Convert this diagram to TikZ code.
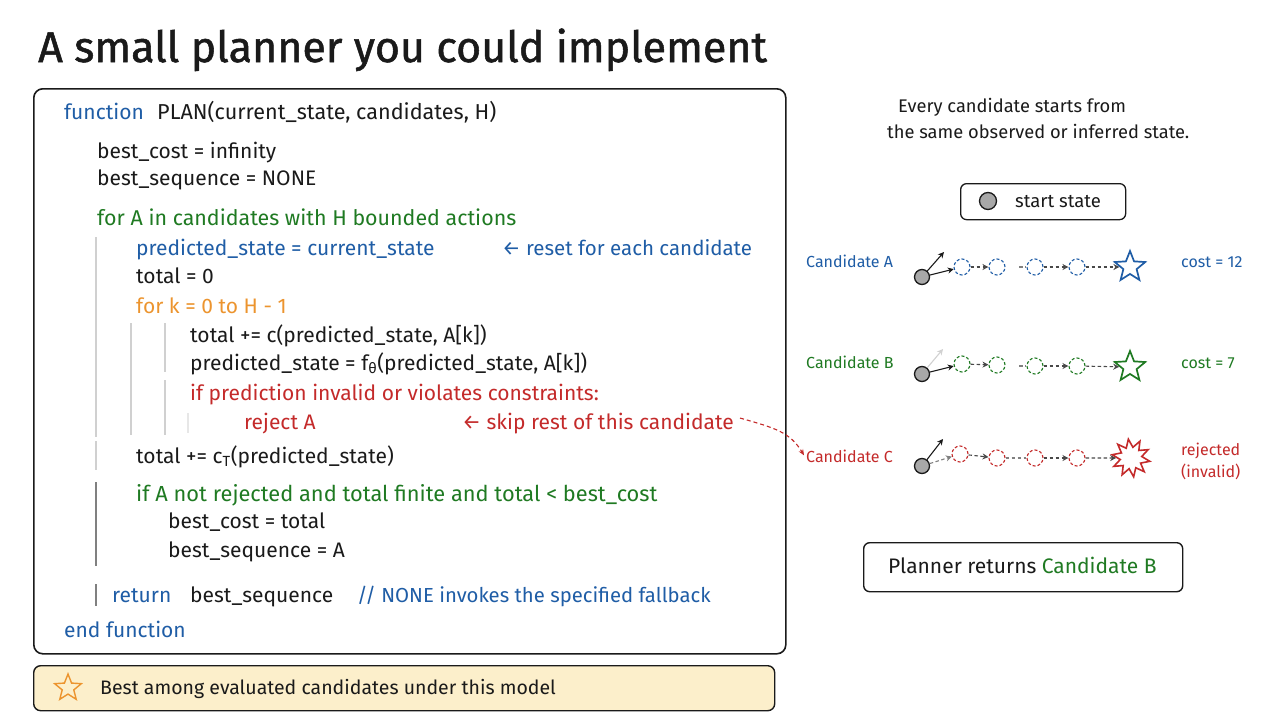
\documentclass[tikz,border=0pt]{standalone}
\usepackage{fontspec}
\setmainfont{Fira Sans}
\usetikzlibrary{shapes.geometric,arrows.meta}
\definecolor{cblue}{HTML}{1F5DA6}
\definecolor{cgreen}{HTML}{1F7A22}
\definecolor{cred}{HTML}{C42A2A}
\definecolor{corange}{HTML}{EC942E}
\definecolor{guide}{HTML}{D0D0D0}
\definecolor{ink}{HTML}{1A1A1A}
\definecolor{notefill}{HTML}{FCEFCB}
\definecolor{startgray}{HTML}{A8A8A8}
\begin{document}
\begin{tikzpicture}[x=1pt,y=-1pt,
  code/.style={anchor=base west, inner sep=0, font=\fontsize{21}{24}\selectfont, text=ink},
  small/.style={anchor=base west, inner sep=0, font=\fontsize{16}{19}\selectfont, text=ink},
  panel/.style={draw=ink, line width=1.6pt, rounded corners=9pt},
  guideline/.style={draw=guide, line width=1.2pt},
  startdot/.style={circle, draw=ink, line width=1.3pt, fill=startgray, minimum size=15pt, inner sep=0},
  pstate/.style={circle, draw=#1, dashed, dash pattern=on 3pt off 2pt, line width=1.1pt, minimum size=16pt, inner sep=0},
  goal/.style={star, star points=5, star point ratio=2.3, draw=#1, line width=1.7pt, minimum size=32pt, inner sep=0},
  flow/.style={-{Stealth[length=6pt,width=6pt]}, draw=ink!80, line width=1.1pt, dashed, dash pattern=on 3.5pt off 2.5pt},
  fan/.style={-{Stealth[length=6pt,width=6pt]}, draw=ink, line width=1.1pt}
]
\useasboundingbox (0,0) rectangle (1280,720);
\fill[white] (0,0) rectangle (1280,720);

% title
\node[anchor=base west, inner sep=0, font=\fontsize{43}{50}\selectfont\addfontfeatures{FakeBold=1.2}, text=ink] (title) at (38,62) {A small planner you could implement};

% main code panel
\node[panel, minimum width=752pt, minimum height=565pt, anchor=north west] (codebox) at (33,88) {};

% guide lines
\draw[guideline] (96,237) -- (96,437);
\draw[guideline] (131,323) -- (131,435);
\draw[guideline] (165,323) -- (165,372);
\draw[guideline] (165,380) -- (165,435);
\draw[guideline, draw=guide!50] (188,413) -- (188,433);
\draw[guideline] (96,441) -- (96,470);
\draw[guideline, draw=gray] (96,482) -- (96,566);
\draw[guideline, draw=gray] (96,584) -- (96,606);

% code lines
\node[code, text=cblue] (l1a) at (64,119) {function};
\node[code, font=\fontsize{21.6}{24}\selectfont] (l1b) at (157,119) {PLAN(current\_state, candidates, H)};
\node[code] (l2) at (97,158) {best\_cost = infinity};
\node[code] (l3) at (97,185) {best\_sequence = NONE};
\node[code, text=cgreen, font=\fontsize{21.4}{24}\selectfont] (l4) at (97,225) {for A in candidates with H bounded actions};
\node[code, text=cblue] (l5) at (136,255) {predicted\_state = current\_state};
\node[code, text=cblue, font=\fontsize{20.5}{24}\selectfont] (l5c) at (502,255) {← reset for each candidate};
\node[code] (l6) at (136,283) {total = 0};
\node[code, text=corange] (l7) at (136,313) {for k = 0 to H - 1};
\node[code] (l8) at (190,342) {total += c(predicted\_state, A[k])};
\node[code] (l9) at (190,370) {predicted\_state = f\textsubscript{θ}(predicted\_state, A[k])};
\node[code, text=cred] (l10) at (190,400) {if prediction invalid or violates constraints:};
\node[code, text=cred] (l11) at (244,429) {reject A};
\node[code, text=cred] (skip) at (462,429) {← skip rest of this candidate};
\node[code] (l12) at (136,463) {total += c\textsubscript{T}(predicted\_state)};
\node[code, text=cgreen, font=\fontsize{21.8}{24}\selectfont] (l13) at (136,501) {if A not rejected and total finite and total < best\_cost};
\node[code] (l14) at (168,528) {best\_cost = total};
\node[code] (l15) at (168,557) {best\_sequence = A};
\node[code, text=cblue] (l16a) at (112,602) {return};
\node[code] (l16b) at (190,602) {best\_sequence};
\node[code, text=cblue, font=\fontsize{20.3}{24}\selectfont] (l16c) at (357,602) {// NONE invokes the specified fallback};
\node[code, text=cblue] (l17) at (64,637) {end function};

% bottom note
\node[panel, line width=1.4pt, rounded corners=7pt, fill=notefill, minimum width=741pt, minimum height=45pt, anchor=north west] (note) at (33,665) {};
\node[star, star points=5, star point ratio=2.3, draw=corange, line width=1.4pt, minimum size=28pt, inner sep=0] (notestar) at (68,688) {};
\node[code, font=\fontsize{19.5}{22}\selectfont] (notetext) at (100,694) {Best among evaluated candidates under this model};

% right side
\node[small, font=\fontsize{18.3}{21}\selectfont] (intro1) at (898,112) {Every candidate starts from};
\node[small, font=\fontsize{18.3}{21}\selectfont] (intro2) at (887,138) {the same observed or inferred state.};

\node[draw=ink, line width=1.3pt, rounded corners=6pt, minimum width=165pt, minimum height=36pt, anchor=north west] (legend) at (960,183) {};
\node[startdot, minimum size=17pt] (legenddot) at (988,201) {};
\node[small, font=\fontsize{18.5}{21}\selectfont] (legendtext) at (1015,207) {start state};

% Candidate A
\node[small, text=cblue] (candA) at (806,267) {Candidate A};
\node[startdot] (sA) at (922,277) {};
\coordinate (uA) at (944,252);
\node[pstate=cblue] (a1) at (962,267) {};
\node[pstate=cblue] (a2) at (997,267) {};
\node[pstate=cblue] (a3) at (1035,267) {};
\node[pstate=cblue] (a4) at (1077,267) {};
\node[goal=cblue] (aS) at (1130,267) {};
\coordinate (gA) at (1019,267);
\node[small, text=cblue] (costA) at (1181,267) {cost = 12};
\draw[fan] (sA) -- (uA);
\draw[fan] (sA) -- (a1);
\draw[flow] (a1) -- (a2);
\draw[flow, -, draw=gray] (gA) -- (a3);
\draw[flow] (a3) -- (a4);
\draw[flow] (a4) -- (aS);

% Candidate B
\node[small, text=cgreen] (candB) at (806,368) {Candidate B};
\node[startdot] (sB) at (922,374) {};
\coordinate (uB) at (943,349);
\node[pstate=cgreen] (b1) at (962,364) {};
\node[pstate=cgreen] (b2) at (997,365) {};
\node[pstate=cgreen] (b3) at (1035,366) {};
\node[pstate=cgreen] (b4) at (1077,366) {};
\node[goal=cgreen] (bS) at (1130,367) {};
\coordinate (gB) at (1019,366);
\node[small, text=cgreen] (costB) at (1181,368) {cost = 7};
\draw[fan, draw=ink!20] (sB) -- (uB);
\draw[fan] (sB) -- (b1);
\draw[flow] (b1) -- (b2);
\draw[flow, -, draw=gray] (gB) -- (b3);
\draw[flow] (b3) -- (b4);
\draw[flow] (b4) -- (bS);

% Candidate C
\node[small, text=cred] (candC) at (806,462) {Candidate C};
\node[startdot] (sC) at (922,466) {};
\coordinate (uC) at (943,439);
\node[pstate=cred] (c1) at (960,454) {};
\node[pstate=cred] (c2) at (997,458) {};
\node[pstate=cred] (c3) at (1035,458) {};
\node[pstate=cred] (c4) at (1077,458) {};
\node[star, star points=10, star point ratio=1.75, draw=cred, line width=1.6pt, minimum size=38pt, inner sep=0, rotate=8] (cS) at (1131,458) {};
\node[small, text=cred] (rejC) at (1181,455) {rejected};
\node[small, text=cred] (invC) at (1181,477) {(invalid)};
\draw[fan] (sC) -- (uC);
\draw[flow, draw=gray] (sC) -- (c1);
\draw[flow] (c1) -- (c2);
\draw[flow, -, draw=gray] (c2) -- (c3);
\draw[flow] (c3) -- (c4);
\draw[flow] (c4) -- (cS);

% skip arrow
\coordinate (skipstart) at ([xshift=6pt,yshift=5pt]skip.east);
\coordinate (skipend) at ([xshift=-2pt,yshift=-6pt]candC.north west);
\draw[-{Stealth[length=6pt,width=5pt]}, draw=cred, line width=1.1pt, dashed, dash pattern=on 4pt off 3pt]
  (skipstart) .. controls (775,428) and (790,432) .. (skipend);

% result box
\node[draw=ink, line width=1.4pt, rounded corners=6pt, minimum width=319pt, minimum height=49pt, anchor=north west] (result) at (863,542) {};
\node[anchor=base west, inner sep=0, font=\fontsize{21}{24}\selectfont, text=ink] (resulttext) at (888,573) {Planner returns \textcolor{cgreen}{Candidate B}};
\end{tikzpicture}
\end{document}
